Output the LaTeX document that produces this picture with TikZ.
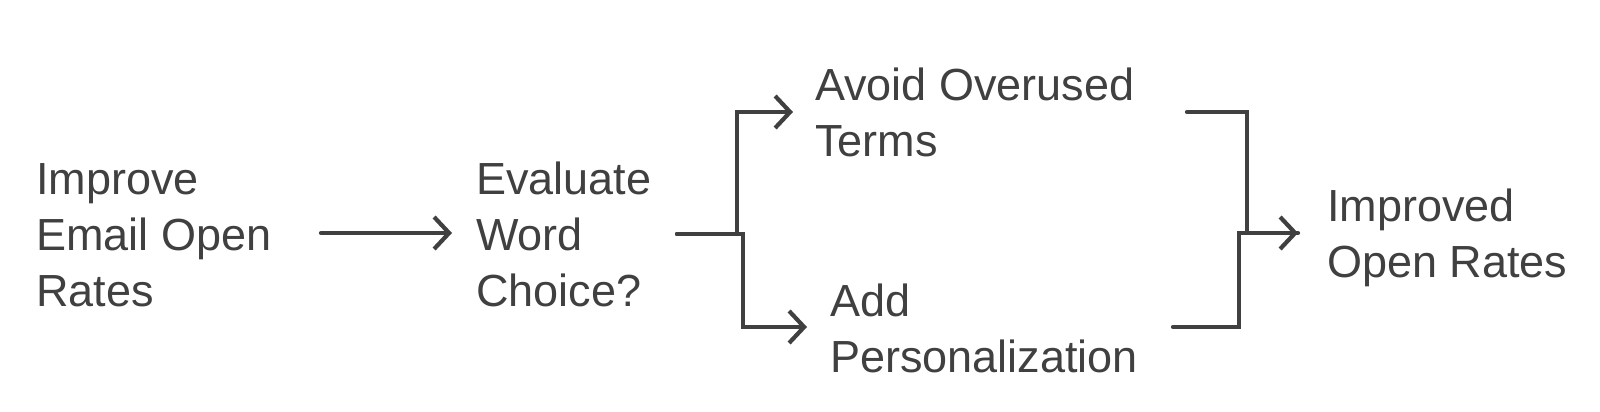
\documentclass[tikz,border=0pt]{standalone}
\usepackage{fontspec}
\setmainfont{Liberation Sans}
\usetikzlibrary{arrows.meta}
\definecolor{ink}{HTML}{404040}
\tikzset{
  lbl/.style={anchor=base west, align=left, inner sep=0pt, text=ink,
    font=\fontsize{45}{56}\selectfont},
  conn/.style={draw=ink, line width=4.2pt, line cap=round, line join=miter},
  tip/.style={-{Straight Barb[length=15pt,width=32pt]}}
}
\begin{document}
\begin{tikzpicture}[x=1pt,y=-1pt]
\useasboundingbox (0,0) rectangle (1600,412);
% base anchor = baseline of the last line
\node[lbl] (n1) at (36,306) {Improve\\Email Open\\Rates};
\node[lbl] (n2) at (476,306) {Evaluate\\Word\\Choice?};
\node[lbl] (n3) at (815,156) {Avoid Overused\\Terms};
\node[lbl] (n4) at (830,372) {Add\\Personalization};
\node[lbl] (n5) at (1327,277) {Improved\\Open Rates};
% connector endpoints
\coordinate (a1) at (321,233);
\coordinate (a2) at (452,233);
\coordinate (s0) at (677,234);
\coordinate (s1) at (793,112);
\coordinate (s2) at (807,327);
\coordinate (m1) at (1187,112);
\coordinate (m2) at (1173,327);
\coordinate (m3) at (1298,233);
\draw[conn,tip] (a1) -- (a2);
\draw[conn,tip] (s0) -- (737,234) -- (737,112) -- (s1);
\draw[conn,tip] (s0) -- (743,234) -- (743,327) -- (s2);
\draw[conn] (m1) -- (1247,112) -- (1247,233) -- (m3);
\draw[conn,tip] (m2) -- (1239,327) -- (1239,233) -- (m3);
\end{tikzpicture}
\end{document}
